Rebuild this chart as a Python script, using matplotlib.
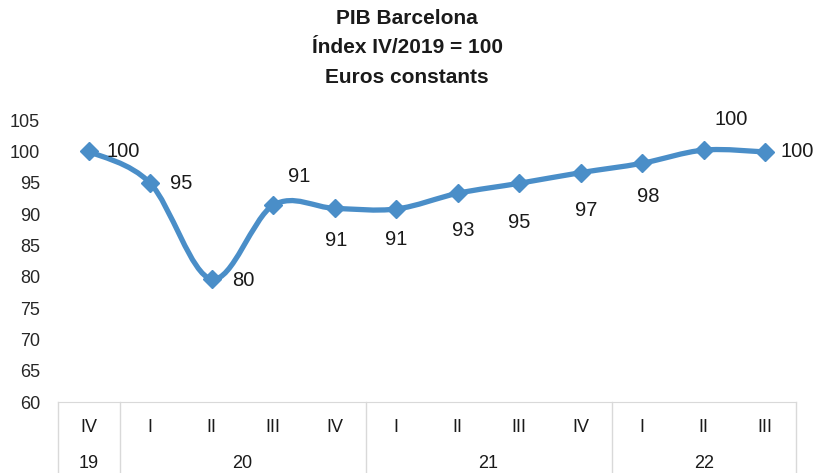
import matplotlib
matplotlib.use("Agg")
import matplotlib.pyplot as plt
from matplotlib.path import Path
from matplotlib.patches import PathPatch

# --------------------------------------------------------------------------- #
# Data
# --------------------------------------------------------------------------- #
QUARTERS = ["IV", "I", "II", "III", "IV", "I", "II", "III", "IV", "I", "II", "III"]
YEARS = ["19", "20", "21", "22"]
YEAR_SPANS = [1, 4, 4, 3]  # quarters per year group
PIB_INDEX = [100.0, 94.9, 79.6, 91.4, 90.9, 90.8, 93.3, 94.9, 96.6, 98.1, 100.2, 99.9]
Y_TICKS = [60, 65, 70, 75, 80, 85, 90, 95, 100, 105]
TITLE_LINES = ["PIB Barcelona", "Índex IV/2019 = 100", "Euros constants"]

# label offsets in points (dx, dy)
LABEL_OFFSETS = [(25, 0), (22, 0), (23, -1), (19, 21), (1, -23), (0, -22),
                 (4, -27), (0, -28), (4, -27), (4, -24), (20, 22), (23, 0)]

BLUE = "#4a8ec8"
GREY = "#d9d9d9"
FONT = "Liberation Sans"


def smooth_path(xs, ys):
    """Excel-style smoothed line as cubic Bezier segments (Catmull-Rom)."""
    pts = list(zip(xs, ys))
    verts = [pts[0]]
    codes = [Path.MOVETO]
    n = len(pts)
    for i in range(n - 1):
        p0 = pts[max(i - 1, 0)]
        p1 = pts[i]
        p2 = pts[i + 1]
        p3 = pts[min(i + 2, n - 1)]
        c1 = (p1[0] + (p2[0] - p0[0]) / 6, p1[1] + (p2[1] - p0[1]) / 6)
        c2 = (p2[0] - (p3[0] - p1[0]) / 6, p2[1] - (p3[1] - p1[1]) / 6)
        verts += [c1, c2, p2]
        codes += [Path.CURVE4] * 3
    return Path(verts, codes)


plt.rcParams["font.family"] = [FONT, "DejaVu Sans"]

fig = plt.figure(figsize=(8.14, 4.73), dpi=100)
ax = fig.add_axes([58 / 814, 1 - 402 / 473, (796 - 58) / 814, (402 - 120) / 473])

xs = list(range(len(PIB_INDEX)))
ax.add_patch(PathPatch(smooth_path(xs, PIB_INDEX), facecolor="none",
                       edgecolor=BLUE, lw=3.8, capstyle="round", zorder=2))
ax.plot(xs, PIB_INDEX, ls="none", marker="D", ms=9, color=BLUE, zorder=3)

for x, v, (dx, dy) in zip(xs, PIB_INDEX, LABEL_OFFSETS):
    ax.annotate(f"{v:.0f}", (x, v), xytext=(dx, dy), textcoords="offset points",
                ha="center", va="center", fontsize=14.5, color="#1a1a1a")

ax.set_xlim(-0.5, len(PIB_INDEX) - 0.5)
ax.set_ylim(60, 105)
ax.set_yticks(Y_TICKS)
ax.tick_params(axis="y", length=0, pad=13, labelsize=13, labelcolor="#262626")
ax.set_xticks([])
for side in ["left", "right", "top"]:
    ax.spines[side].set_visible(False)
ax.spines["bottom"].set_color(GREY)

# category axis: quarter row + year row, boxed
trans = ax.get_xaxis_transform()
box_bottom = -(473 - 402) / 282
for x, q in zip(xs, QUARTERS):
    ax.text(x, -26 / 282, q, transform=trans, ha="center", va="center",
            fontsize=13, color="#1a1a1a")

start = -0.5
bounds = [start]
for year, span in zip(YEARS, YEAR_SPANS):
    mid = start + span / 2
    ax.text(mid, -61 / 282, year, transform=trans, ha="center", va="center",
            fontsize=13, color="#1a1a1a")
    start += span
    bounds.append(start)

for b in bounds:
    ax.plot([b, b], [0, box_bottom], transform=trans, color=GREY, lw=1,
            clip_on=False)

# title
for i, line in enumerate(TITLE_LINES):
    fig.text(407 / 814, 1 - (18 + 29.5 * i) / 473, line, ha="center",
             va="center", fontsize=15, fontweight="bold", color="#1a1a1a")

fig.savefig("out.png", dpi=100)
